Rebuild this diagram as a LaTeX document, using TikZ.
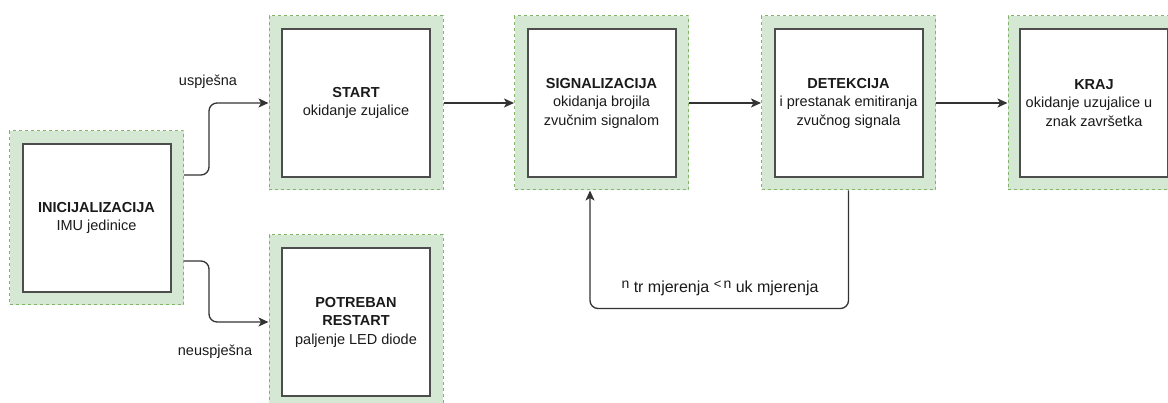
\documentclass[tikz,border=0pt]{standalone}
\usepackage{fontspec}
\setmainfont{Liberation Sans}
\usetikzlibrary{arrows.meta}
\definecolor{gfill}{HTML}{D5E8D4}
\definecolor{gline}{HTML}{82B366}
\definecolor{darkbox}{HTML}{4D4D4D}
\definecolor{connc}{HTML}{333333}
\definecolor{txt}{HTML}{1A1A1A}
\begin{document}
\begin{tikzpicture}[x=1pt,y=-1pt,
  frame/.style={draw=gline, fill=gfill, dash pattern=on 3pt off 3pt, line width=1pt,
    minimum width=174pt, minimum height=174pt, inner sep=0pt},
  box/.style={draw=darkbox, fill=white, line width=2pt, minimum width=148pt,
    minimum height=148pt, inner sep=0pt, align=center, text=txt,
    font=\fontsize{14.5}{18.5}\selectfont},
  conn/.style={draw=connc, line width=1.3pt, rounded corners=8pt,
    -{Stealth[length=10pt,width=9pt,inset=2.5pt]}},
  lbl/.style={font=\fontsize{14.5}{18.5}\selectfont, text=txt, inner sep=0pt}]
\useasboundingbox (0,0) rectangle (1168,403);

\node[frame] (initF) at (96.5,218) {};
\node[box] (init) at (96.5,218) {\textbf{INICIJALIZACIJA}\\IMU jedinice};

\node[frame] (startF) at (356,103) {};
\node[box] (start) at (356,103) {\textbf{START}\\okidanje zujalice};

\node[frame] (potF) at (356,322) {};
\node[box] (pot) at (356,322) {\textbf{POTREBAN}\\\textbf{RESTART}\\paljenje LED diode};

\node[frame] (sigF) at (601.5,103) {};
\node[box] (sig) at (601.5,103) {\textbf{SIGNALIZACIJA}\\okidanja brojila\\zvučnim signalom};

\node[frame] (detF) at (848.5,103) {};
\node[box] (det) at (848.5,103) {\textbf{DETEKCIJA}\\i prestanak emitiranja\\zvučnog signala};

\node[frame] (krajF) at (1095,103) {};
\node[box] (kraj) at (1094,103) {\textbf{KRAJ}\\\hspace*{-10pt}okidanje uzujalice u\\znak završetka};

\draw[conn] ([yshift=43pt]initF.east) -- ++(25,0) |- (startF.west);
\draw[conn] ([yshift=-43pt]initF.east) -- ++(25,0) |- (potF.west);
\draw[conn] (startF.east) -- (sigF.west);
\draw[conn] (sigF.east) -- (detF.west);
\draw[conn] (detF.east) -- (krajF.west);
\draw[conn] (detF.south) -- ++(0,118) -| ([xshift=-11.5pt]sigF.south);

\node[lbl] (usp) at (208,82) {uspješna};
\node[lbl] (neusp) at (215,352) {neuspješna};
\node[lbl, font=\fontsize{16}{18.5}\selectfont] (cond) at (720,288) {{\fontsize{14}{14}\selectfont\raisebox{3.5pt}{n}} tr mjerenja {\fontsize{13}{13}\selectfont\raisebox{3.5pt}{<}\,\fontsize{14}{14}\selectfont\raisebox{3.5pt}{n}} uk mjerenja};
\end{tikzpicture}
\end{document}
